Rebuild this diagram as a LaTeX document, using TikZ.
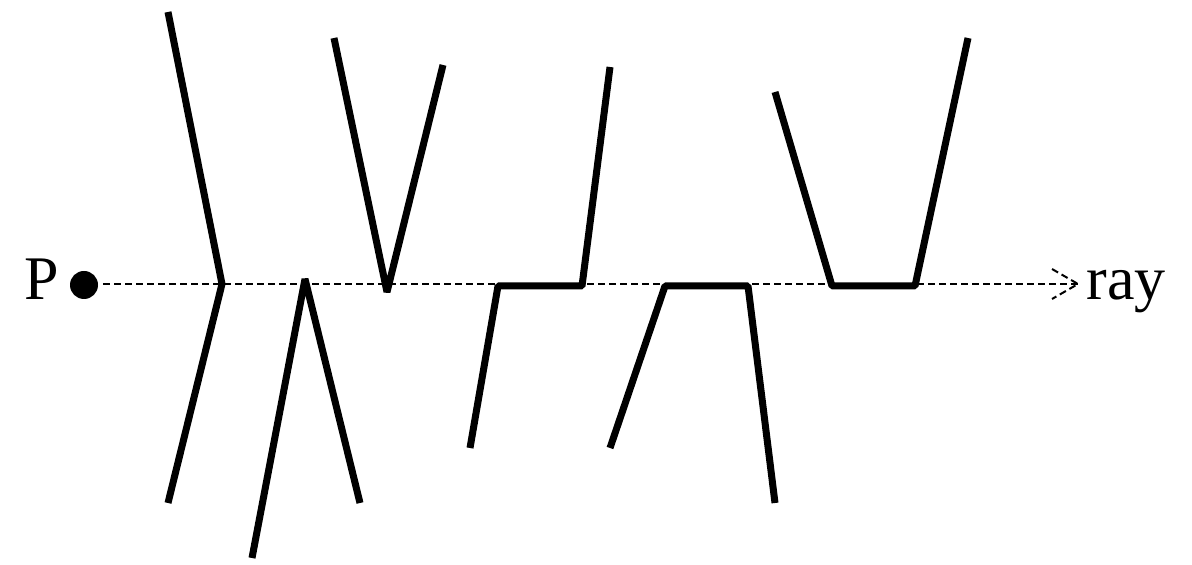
\documentclass[tikz,border=0pt]{standalone}
\usepackage{fontspec}
\setmainfont{Liberation Serif}
\begin{document}
\begin{tikzpicture}[x=0.5pt,y=-0.5pt,
  edge/.style={line width=3.5pt,line join=bevel,line cap=butt},
  raystyle/.style={line width=1pt,dash pattern=on 3.5pt off 2pt},
  lbl/.style={inner sep=0pt,font=\fontsize{31}{36}\selectfont}]
\useasboundingbox (0,0) rectangle (1192,565);
% point P and ray
\node[lbl,anchor=base east] (P) at (59,300) {P};
\fill (84,285) circle (7pt);
\coordinate (pc) at (84,285);
\coordinate (rs) at (103,284);
\coordinate (tip) at (1078,284);
\coordinate (tu) at (1052,269);
\coordinate (td) at (1052,299);
\node[lbl,anchor=base west] (ray) at (1086,300) {ray};
\draw[raystyle] (rs) -- (tip);
\draw[raystyle] (tu) -- (tip) -- (td);
% polyline 1
\coordinate (a1) at (168,12);
\coordinate (a2) at (222,284);
\coordinate (a3) at (168,503);
\draw[edge] (a1) -- (a2) -- (a3);
% polyline 2
\coordinate (b1) at (252,558);
\coordinate (b2) at (305,279);
\coordinate (b3) at (360,503);
\draw[edge] (b1) -- (b2) -- (b3);
% polyline 3
\coordinate (c1) at (334,38);
\coordinate (c2) at (387,292);
\coordinate (c3) at (443,65);
\draw[edge] (c1) -- (c2) -- (c3);
% polyline 4
\coordinate (d1) at (470,448);
\coordinate (d2) at (498,286);
\coordinate (d3) at (582,286);
\coordinate (d4) at (610,67);
\draw[edge] (d1) -- (d2) -- (d3) -- (d4);
% polyline 5
\coordinate (e1) at (610,448);
\coordinate (e2) at (665,286);
\coordinate (e3) at (748,286);
\coordinate (e4) at (775,503);
\draw[edge] (e1) -- (e2) -- (e3) -- (e4);
% polyline 6
\coordinate (f1) at (775,92);
\coordinate (f2) at (832,286);
\coordinate (f3) at (915,286);
\coordinate (f4) at (968,38);
\draw[edge] (f1) -- (f2) -- (f3) -- (f4);
\end{tikzpicture}
\end{document}
